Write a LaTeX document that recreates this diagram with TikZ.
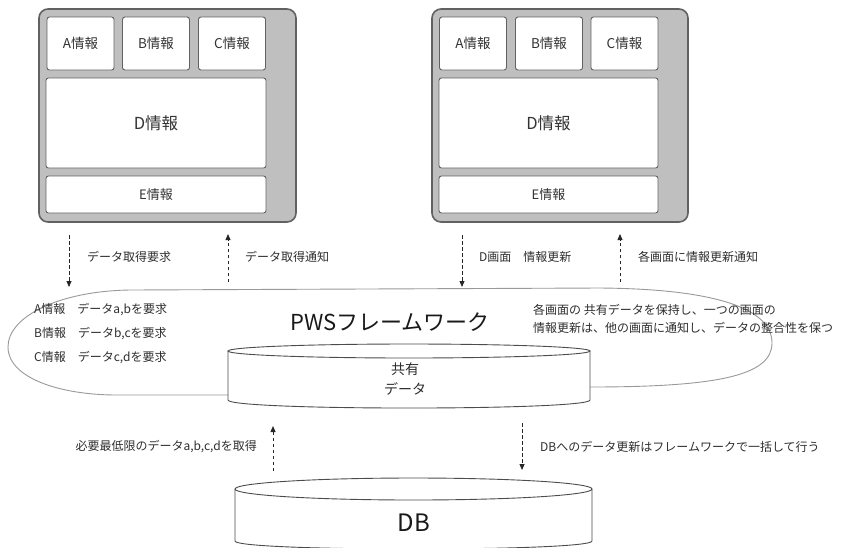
\documentclass[tikz,border=0pt]{standalone}
\usepackage{fontspec}
\setmainfont{Noto Sans CJK JP}
\usetikzlibrary{arrows.meta}
\begin{document}
\begin{tikzpicture}[x=1pt,y=-1pt,
  panel/.style={draw=black!62, line width=1.6pt, fill=black!25, rounded corners=9pt, inner sep=0pt},
  infobox/.style={draw=black!62, line width=0.9pt, fill=white, rounded corners=2.5pt, inner sep=0pt, font=\fontsize{13.5}{15}\selectfont, text=black!80},
  lbl/.style={font=\fontsize{12}{14}\selectfont, text=black!82, inner sep=0pt},
  flow/.style={draw=black!85, dash pattern=on 3.5pt off 2.5pt, line width=0.8pt, -{Triangle[length=6pt,width=5pt]}},
  cylline/.style={draw=black!70, line width=0.9pt},
  blob/.style={draw=black!40, line width=0.9pt, fill=white}
]
\useasboundingbox (0,0) rectangle (842,547);

% left panel
\node[panel, minimum width=257pt, minimum height=213pt] (lp) at (167.5,115.5) {};
\node[infobox, minimum width=67pt, minimum height=53pt] (la) at (80.5,43.5) {A情報};
\node[infobox, minimum width=67pt, minimum height=53pt] (lb) at (156,43.5) {B情報};
\node[infobox, minimum width=67pt, minimum height=53pt] (lc) at (232,43.5) {C情報};
\node[infobox, minimum width=220pt, minimum height=90pt, font=\fontsize{16.5}{18}\selectfont] (ld) at (156,123) {D情報};
\node[infobox, minimum width=220pt, minimum height=37pt, font=\fontsize{13}{15}\selectfont] (le) at (156,194.5) {E情報};

% right panel
\node[panel, minimum width=256pt, minimum height=213pt] (rp) at (560,115.5) {};
\node[infobox, minimum width=67pt, minimum height=53pt] (ra) at (473,43.5) {A情報};
\node[infobox, minimum width=67pt, minimum height=53pt] (rb) at (549,43.5) {B情報};
\node[infobox, minimum width=67pt, minimum height=53pt] (rc) at (624.5,43.5) {C情報};
\node[infobox, minimum width=219pt, minimum height=90pt, font=\fontsize{16.5}{18}\selectfont] (rd) at (548.5,123) {D情報};
\node[infobox, minimum width=219pt, minimum height=37pt, font=\fontsize{13}{15}\selectfont] (re) at (548.5,194.5) {E情報};

% framework blob
\path[blob] (130,290) -- (600,288) .. controls (720,289) and (772,310) .. (772,343)
  .. controls (772,375) and (720,387) .. (590,387) -- (228,395) -- (117,395)
  .. controls (60,395) and (8,378) .. (8,347) .. controls (8,316) and (60,291) .. (130,290) -- cycle;

% shared data cylinder
\fill[white] (228,351) -- (228,400) .. controls (228,410.7) and (590,410.7) .. (590,400) -- (590,351) -- cycle;
\draw[cylline] (228,351) -- (228,400) .. controls (228,410.7) and (590,410.7) .. (590,400) -- (590,351);
\draw[cylline, fill=white] (409,351) ellipse [x radius=181, y radius=7];
\node[lbl, font=\fontsize{14}{16}\selectfont] (kyo) at (405,369) {共有};
\node[lbl, font=\fontsize{14}{16}\selectfont] (dat) at (405,389) {データ};

% DB cylinder
\fill[white] (235,489) -- (235,541) .. controls (235,551.7) and (592,551.7) .. (592,541) -- (592,489) -- cycle;
\draw[cylline] (235,489) -- (235,541) .. controls (235,551.7) and (592,551.7) .. (592,541) -- (592,489);
\draw[cylline, fill=white] (413.5,489) ellipse [x radius=178.5, y radius=11];
\node[lbl, font=\fontsize{24}{26}\selectfont, text=black!90] (db) at (414,523) {DB};

% texts in blob
\node[lbl, font=\fontsize{22}{24}\selectfont, text=black!90, anchor=west] (pws) at (290,322) {PWSフレームワーク};
\node[lbl, anchor=west] (ta) at (34,310) {A情報　データa,bを要求};
\node[lbl, anchor=west] (tb) at (34,334) {B情報　データb,cを要求};
\node[lbl, anchor=west] (tc) at (34,358) {C情報　データc,dを要求};
\node[lbl, anchor=west] (r1) at (533,310) {各画面の 共有データを保持し、一つの画面の};
\node[lbl, anchor=west] (r2) at (533,328) {情報更新は、他の画面に通知し、データの整合性を保つ};

% arrows top
\coordinate (a1s) at (69,235);  \coordinate (a1e) at (69,287);
\coordinate (a2s) at (228,282); \coordinate (a2e) at (228,234);
\coordinate (a3s) at (462,235); \coordinate (a3e) at (462,287);
\coordinate (a4s) at (620,282); \coordinate (a4e) at (620,234);
\draw[flow] (a1s) -- (a1e);
\draw[flow] (a2s) -- (a2e);
\draw[flow] (a3s) -- (a3e);
\draw[flow] (a4s) -- (a4e);
\node[lbl, anchor=west] (l1) at (87,257) {データ取得要求};
\node[lbl, anchor=west] (l2) at (245,257) {データ取得通知};
\node[lbl, anchor=west] (l3) at (479,257) {D画面　情報更新};
\node[lbl, anchor=west] (l4) at (638,257) {各画面に情報更新通知};

% arrows bottom
\coordinate (b1s) at (273,471); \coordinate (b1e) at (273,426);
\coordinate (b2s) at (522,423); \coordinate (b2e) at (522,470);
\draw[flow] (b1s) -- (b1e);
\draw[flow] (b2s) -- (b2e);
\node[lbl, anchor=east] (l5) at (257,447) {必要最低限のデータa,b,c,dを取得};
\node[lbl, anchor=west] (l6) at (540,447) {DBへのデータ更新はフレームワークで一括して行う};
\end{tikzpicture}
\end{document}
